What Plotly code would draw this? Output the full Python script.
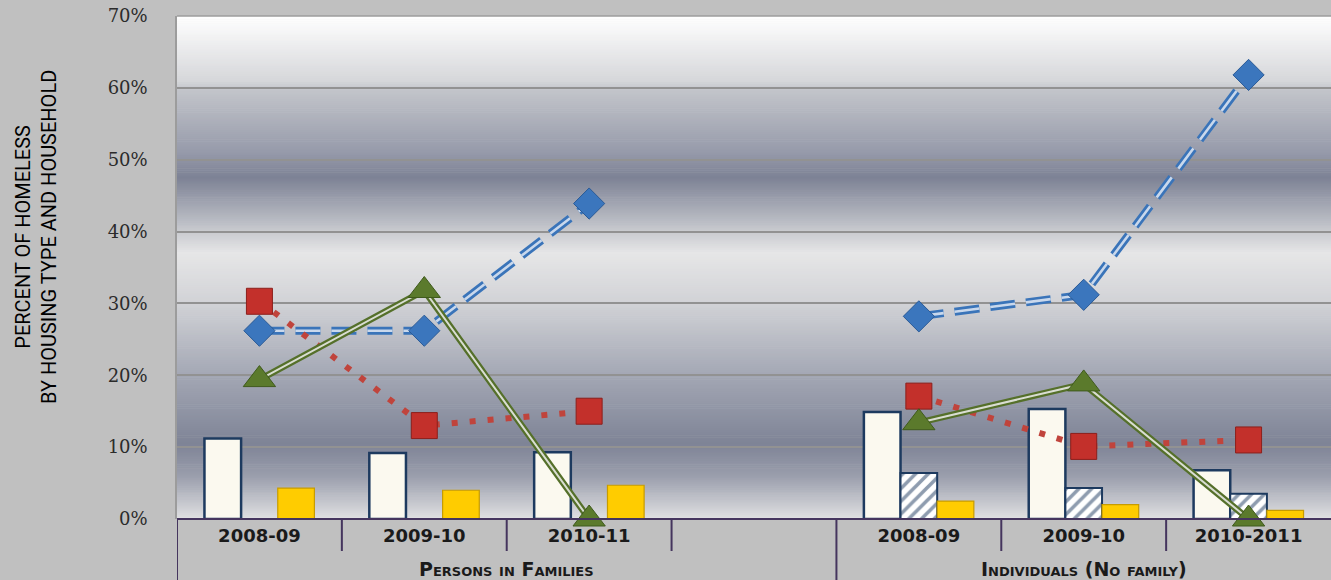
import numpy as np
import plotly.graph_objects as go

# Categories (one empty slot separates the two household groups)
groups = ["Persons in Families"] * 4 + ["Individuals (No family)"] * 3
years = ["2008-09", "2009-10", "2010-11", "", "2008-09", "2009-10", "2010-2011"]

# Bar series (fraction of homeless)
bar_white = [0.112, 0.092, 0.093, None, 0.149, 0.153, 0.068]
bar_hatch = [None, None, None, None, 0.064, 0.043, 0.035]
bar_gold = [0.043, 0.040, 0.047, None, 0.025, 0.020, 0.012]

# Line series
line_blue = [0.262, 0.262, 0.439, None, 0.282, 0.312, 0.618]
line_red = [0.303, 0.130, 0.150, None, 0.171, 0.101, 0.110]
line_green = [0.194, 0.318, 0.0, None, 0.134, 0.188, 0.0]

y_ticks = [0, 0.1, 0.2, 0.3, 0.4, 0.5, 0.6, 0.7]
y_tick_text = ["0%", "10%", "20%", "30%", "40%", "50%", "60%", "70%"]

x = list(range(len(years)))

fig = go.Figure()

# --- bars ---
fig.add_trace(go.Bar(
    x=x, y=bar_white,
    marker=dict(color="#fbf9ef", line=dict(color="#1d3a5f", width=2.5)),
))
fig.add_trace(go.Bar(
    x=x, y=bar_hatch,
    marker=dict(color="#ffffff", line=dict(color="#1d3a5f", width=2),
                pattern=dict(shape="/", fgcolor="#1d3a5f", bgcolor="#ffffff",
                             size=9, solidity=0.4, fillmode="overlay")),
))
fig.add_trace(go.Bar(
    x=x, y=bar_gold,
    marker=dict(color="#ffcc00", line=dict(color="#c79c00", width=1.2)),
))

# --- lines ---
dash_blue = "25px,11px"
fig.add_trace(go.Scatter(x=x, y=line_blue, mode="lines", connectgaps=False,
                         line=dict(color="#3a74b9", width=8, dash=dash_blue)))
fig.add_trace(go.Scatter(x=x, y=line_blue, mode="lines", connectgaps=False,
                         line=dict(color="#c9d8ec", width=2.6, dash=dash_blue)))

fig.add_trace(go.Scatter(x=x, y=line_red, mode="lines", connectgaps=False,
                         line=dict(color="#c0443c", width=6, dash="6px,12px")))

fig.add_trace(go.Scatter(x=x, y=line_green, mode="lines", connectgaps=False, cliponaxis=False,
                         line=dict(color="#55702a", width=6.5)))
fig.add_trace(go.Scatter(x=x, y=line_green, mode="lines", connectgaps=False, cliponaxis=False,
                         line=dict(color="#d9ddd2", width=2)))

# --- markers ---
fig.add_trace(go.Scatter(x=x, y=line_blue, mode="markers",
                         marker=dict(symbol="diamond", size=24, color="#3b76bd",
                                     line=dict(color="#2a5a96", width=1))))
fig.add_trace(go.Scatter(x=x, y=line_red, mode="markers",
                         marker=dict(symbol="square", size=26, color="#c3302b",
                                     line=dict(color="#8c1f1b", width=1))))
fig.add_trace(go.Scatter(x=x, y=line_green, mode="markers", cliponaxis=False,
                         marker=dict(symbol="triangle-up", size=28, color="#5b7a2c",
                                     line=dict(color="#3f5a1c", width=1))))

# --- plot-area gradient background ---
stops = [
    (0.700, "#ffffff"), (0.610, "#d6d7da"), (0.598, "#c3c5cb"), (0.510, "#969aaa"),
    (0.475, "#7d8295"), (0.400, "#c8cacf"), (0.370, "#e6e6e7"), (0.300, "#d1d2d6"),
    (0.200, "#a3a7b4"), (0.105, "#7e8396"), (0.060, "#9a9eac"), (0.000, "#e0e0e2"),
]
stop_pos = np.array([s[0] for s in stops])[::-1]
stop_rgb = np.array([[int(c[i:i + 2], 16) for i in (1, 3, 5)] for _, c in stops])[::-1]

shapes = []
n_strips = 260
edges = np.linspace(0, 0.7, n_strips + 1)
for lo, hi in zip(edges[:-1], edges[1:]):
    mid = (lo + hi) / 2
    rgb = [int(round(np.interp(mid, stop_pos, stop_rgb[:, k]))) for k in range(3)]
    shapes.append(dict(type="rect", xref="paper", yref="y", x0=0, x1=1,
                       y0=lo, y1=hi + 0.0008, line=dict(width=0),
                       fillcolor="rgb(%d,%d,%d)" % tuple(rgb), layer="below"))

# top border of plot area
shapes.append(dict(type="line", xref="paper", yref="paper", x0=0, x1=1, y0=1, y1=1,
                   line=dict(color="#9c9c9c", width=1.5)))
# category axis line and dividers
axis_col = "#45355e"
shapes.append(dict(type="line", xref="paper", yref="paper", x0=0, x1=1, y0=0, y1=0,
                   line=dict(color=axis_col, width=2)))
plot_h = 580 - 16 - 61
for i in range(len(years)):
    xpos = i - 0.5
    is_group_start = i == 0 or groups[i] != groups[i - 1]
    depth = 61 if is_group_start else 32
    shapes.append(dict(type="line", xref="x", yref="paper", x0=xpos, x1=xpos,
                       y0=0, y1=-depth / plot_h, line=dict(color=axis_col, width=2)))

# group labels
annotations = []
group_names = list(dict.fromkeys(groups))
for g in group_names:
    idx = [i for i, gg in enumerate(groups) if gg == g]
    annotations.append(dict(
        x=(idx[0] + idx[-1]) / 2, y=-50 / plot_h, xref="x", yref="paper",
        text=g, showarrow=False, yanchor="middle",
        font=dict(family="DejaVu Sans", size=19, color="#1a1a1a", weight="bold",
                  variant="small-caps"),
    ))

# y-axis title
annotations.append(dict(
    x=-141 / (1331 - 177), y=1 - (237 - 16) / plot_h, xref="paper", yref="paper",
    text="PERCENT OF HOMELESS<br>BY HOUSING TYPE AND HOUSEHOLD",
    textangle=-90, showarrow=False, xanchor="center", yanchor="middle",
    font=dict(family="Liberation Sans Narrow, Roboto", size=20, color="#000000"),
))

fig.update_layout(
    width=1331, height=580,
    margin=dict(l=177, r=0, t=16, b=61),
    paper_bgcolor="#c0c0c0", plot_bgcolor="#d9d9d9",
    barmode="group", bargap=0.333, bargroupgap=0,
    showlegend=False,
    shapes=shapes, annotations=annotations,
    xaxis=dict(range=[-0.5, len(years) - 0.5], tickvals=x, ticktext=years,
               showgrid=False, zeroline=False, showline=False, ticks="",
               tickfont=dict(family="DejaVu Sans", size=18, color="#1a1a1a", weight="bold"),
               ticklabelstandoff=4, fixedrange=True),
    yaxis=dict(range=[0, 0.7], tickvals=y_ticks, ticktext=y_tick_text,
               showgrid=True, gridcolor="#929292", gridwidth=1.5,
               zeroline=False, showline=True, linecolor="#9c9c9c", linewidth=1.5,
               ticks="", ticklabelstandoff=24,
               tickfont=dict(family="DejaVu Serif", size=18, color="#2b2b2b"),
               fixedrange=True),
)

fig.write_html("out.html")
